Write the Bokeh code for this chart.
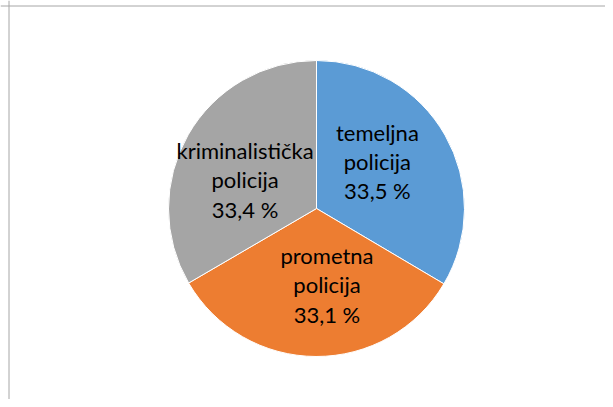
import math
from bokeh.plotting import figure
from bokeh.models import Range1d, Span, ColumnDataSource
from bokeh.core.properties import value
from bokeh.embed import file_html
from bokeh.resources import INLINE

categories = ["temeljna policija", "prometna policija", "kriminalistička policija"]
shares = [33.5, 33.1, 33.4]
colors = ["#5B9BD5", "#ED7D31", "#A5A5A5"]

W, H = 605, 399
CX, CY, R = 316, H - 208, 148
LABEL_R = 0.52
LABEL_ROT = math.radians(8)

total = sum(shares)
starts, ends, lx, ly, labels = [], [], [], [], []
cum = 0.0
for cat, v in zip(categories, shares):
    a0 = math.pi / 2 - 2 * math.pi * cum / total
    cum += v
    a1 = math.pi / 2 - 2 * math.pi * cum / total
    starts.append(a0)
    ends.append(a1)
    mid = (a0 + a1) / 2 + LABEL_ROT
    lx.append(CX + LABEL_R * R * math.cos(mid))
    ly.append(CY + LABEL_R * R * math.sin(mid))
    labels.append(cat.replace(" ", "\n") + "\n" + f"{v:.1f}".replace(".", ",") + " %")

src = ColumnDataSource(dict(start=starts, end=ends, color=colors, lx=lx, ly=ly, label=labels))

p = figure(width=W, height=H, output_backend="svg", toolbar_location=None,
           x_range=Range1d(0, W), y_range=Range1d(0, H), min_border=0,
           background_fill_color="white", border_fill_color="white")
p.axis.visible = False
p.grid.visible = False
p.outline_line_color = None

p.wedge(x=CX, y=CY, radius=R, start_angle="start", end_angle="end", direction="clock",
        fill_color="color", line_color="white", line_width=1, source=src)

p.text(x="lx", y="ly", text="label", source=src, text_align="center", text_baseline="middle",
       text_font=value("Lato"), text_font_size="22px", text_line_height=1.09, text_color="#000000")

p.add_layout(Span(location=H - 5.5, dimension="width", line_color="#A6A6A6", line_width=1))
p.add_layout(Span(location=8.5, dimension="height", line_color="#A6A6A6", line_width=1))

open("out.html", "w").write(file_html(p, INLINE))
